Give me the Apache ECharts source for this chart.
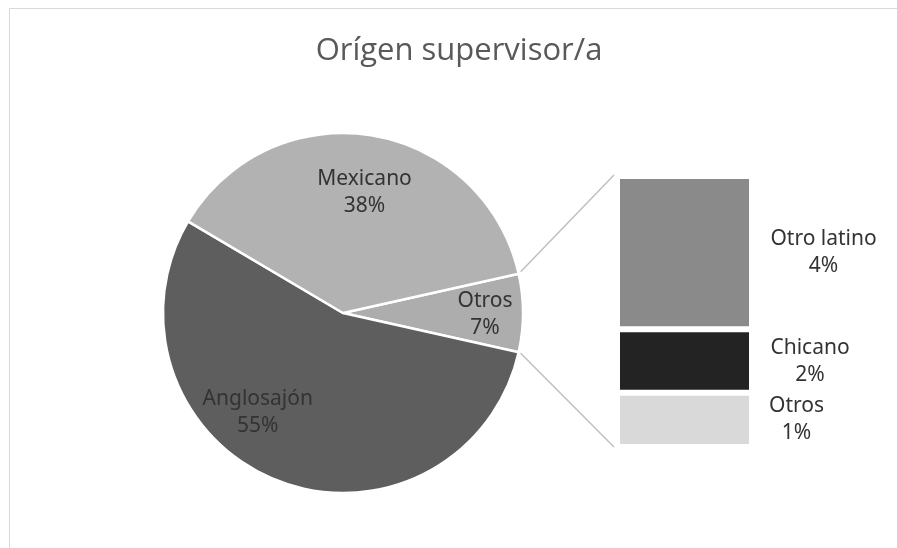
<!DOCTYPE html>
<html>
<head>
<meta charset="utf-8">
<script src="https://cdn.jsdelivr.net/npm/echarts@6/dist/echarts.min.js"></script>
<style>
  html, body { margin: 0; padding: 0; background: #fff; }
  #chart { width: 897px; height: 548px; }
</style>
</head>
<body>
<div id="chart"></div>
<script>
// pie slices (order: Otros first so it sits at 3 o'clock)
const pieNames = ['Otros', 'Anglosajón', 'Mexicano'];
const pieValues = [7, 55, 38];
// breakdown of "Otros", bottom to top of the bar
const barNames = ['Otros', 'Chicano', 'Otro latino'];
const barValues = [1.40, 1.64, 3.96];

const pieColors = ['#adadad', '#5e5e5e', '#b2b2b2'];
const barColors = ['#d9d9d9', '#232323', '#8a8a8a'];
const barLabelPos = [['133%', '50%'], ['143%', '50%'], ['153%', '50%']];
// nudge pie labels away from the default mid-radius spot, like Excel does
const pieLabelShift = [[49, 2], [-51, 13], [7, -29]];

const cx = 343, cy = 313, R = 180;
const gridLeft = 617, gridTop = 176, gridW = 135, gridH = 271;

const pieTotal = pieValues.reduce((a, b) => a + b, 0);
const barTotal = barValues.reduce((a, b) => a + b, 0);
const halfAngle = pieValues[0] / pieTotal * 180;

// connector lines from the "Otros" slice edge to the bar corners
const a = halfAngle * Math.PI / 180;
const pTop = [cx + R * Math.cos(a) + 2, cy - R * Math.sin(a) - 2];
const pBot = [cx + R * Math.cos(a) + 2, cy + R * Math.sin(a) + 1];
const xBar = gridLeft - 3;

const chart = echarts.init(document.getElementById('chart'));

const labelFont = {
  fontFamily: 'Noto Sans',
  fontSize: 21,
  lineHeight: 27,
  color: '#333333'
};

chart.setOption({
  animation: false,
  title: {
    text: 'Orígen supervisor/a',
    left: 454,
    textAlign: 'center',
    top: 31,
    textStyle: {
      fontFamily: 'Open Sans',
      fontWeight: 'normal',
      fontSize: 31,
      color: '#595959'
    }
  },
  grid: { left: gridLeft, top: gridTop, width: gridW, height: gridH },
  xAxis: { type: 'category', data: ['Otros'], show: false },
  yAxis: { type: 'value', min: 0, max: barTotal, show: false },
  graphic: [
    {
      type: 'rect',
      shape: { x: 9.5, y: 8.5, width: 1000, height: 1000 },
      style: { fill: 'none', stroke: '#d9d9d9', lineWidth: 1 },
      silent: true
    },
    {
      type: 'line',
      shape: { x1: pTop[0], y1: pTop[1], x2: xBar, y2: gridTop - 1 },
      style: { stroke: '#bfbfbf', lineWidth: 1.5 },
      silent: true
    },
    {
      type: 'line',
      shape: { x1: pBot[0], y1: pBot[1], x2: xBar, y2: gridTop + gridH },
      style: { stroke: '#bfbfbf', lineWidth: 1.5 },
      silent: true
    }
  ],
  series: [
    {
      type: 'pie',
      center: [cx, cy],
      radius: R,
      startAngle: halfAngle,
      clockwise: true,
      itemStyle: { borderColor: '#fff', borderWidth: 2.5 },
      label: Object.assign({
        position: 'inner',
        formatter: '{b}\n{d}%'
      }, labelFont),
      labelLayout: function (p) {
        const s = pieLabelShift[p.dataIndex];
        return { dx: s[0], dy: s[1] };
      },
      labelLine: { show: false },
      data: pieNames.map((n, i) => ({
        name: n, value: pieValues[i], itemStyle: { color: pieColors[i] }
      }))
    }
  ].concat(barNames.map((n, i) => ({
    type: 'bar',
    name: n,
    stack: 'otros',
    barWidth: '100%',
    itemStyle: { color: barColors[i], borderColor: '#fff', borderWidth: 3 },
    label: Object.assign({
      show: true,
      position: barLabelPos[i],
      align: 'center',
      verticalAlign: 'middle',
      formatter: p => p.seriesName + '\n' + Math.round(p.value) + '%'
    }, labelFont),
    data: [barValues[i]]
  })))
});
</script>
</body>
</html>
